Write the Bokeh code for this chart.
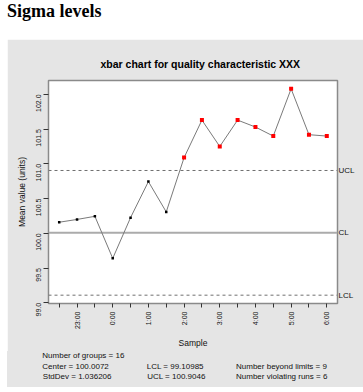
import math
from bokeh.plotting import figure
from bokeh.models import (Range1d, FixedTicker, PrintfTickFormatter, Div,
                          ColumnDataSource, LinearAxis)
from bokeh.layouts import column
from bokeh.embed import file_html
from bokeh.resources import INLINE

# ---- data ----
samples = ["22:30", "23:00", "23:30", "0:00", "0:30", "1:00", "1:30", "2:00",
           "2:30", "3:00", "3:30", "4:00", "4:30", "5:00", "5:30", "6:00"]
means = [100.16, 100.20, 100.245, 99.64, 100.226, 100.745, 100.308, 101.09,
         101.63, 101.25, 101.63, 101.53, 101.40, 102.08, 101.42, 101.40]
center = 100.0072
lcl = 99.10985
ucl = 100.9046
stddev = 1.036206
n_groups = 16
n_beyond = 9
n_runs = 6
y_ticks = [99.0, 99.5, 100.0, 100.5, 101.0, 101.5, 102.0]

# ---- layout geometry (pixels) ----
PAGE_W = 363
GX = 7                      # left edge of grey panel
FW = PAGE_W - GX            # 356
FRAME_W, FRAME_H = 289, 223
BL, BT, BR, BB = 41, 41, 26, 48
x0, x1 = -0.6, 15.6
y0, y1 = 98.99, 102.2

FONT = "Liberation Sans"
GRAY_BG = "#e5e5e5"
TXT = "#111111"

title_div = Div(
    text=('<div style="position:relative; top:2px; left:7px; '
          'font-family:\'Liberation Serif\'; font-weight:bold; font-size:18px; '
          'line-height:18px; white-space:nowrap; color:#000;">Sigma levels</div>'),
    width=PAGE_W, height=39, margin=(0, 0, 0, 0))

p = figure(frame_width=FRAME_W, frame_height=FRAME_H,
           x_range=Range1d(x0, x1), y_range=Range1d(y0, y1),
           output_backend="svg", toolbar_location=None,
           title="xbar chart for quality characteristic XXX",
           min_border_left=BL, min_border_right=BR, min_border_top=BT,
           min_border_bottom=BB, margin=(0, 0, 0, GX),
           border_fill_color=GRAY_BG, background_fill_color="white")
p.title.align = "left"
p.title.offset = 52
p.title.standoff = 22
p.title.text_font = FONT
p.title.text_font_size = "10.5px"
p.title.text_font_style = "bold"
p.title.text_color = "#000000"

p.outline_line_color = "#8a8a8a"
p.outline_line_width = 1.5
p.xgrid.visible = False
p.ygrid.visible = False

idx = list(range(len(samples)))
colors = ["red" if (v > ucl or v < lcl) else "black" for v in means]
sizes = [4 if c == "red" else 2.5 for c in colors]

# control lines
p.line([x0, x1], [center, center], line_color="#ababab", line_width=2)
p.line([x0, x1], [ucl, ucl], line_color="#707070", line_width=1, line_dash="3 3")
p.line([x0, x1], [lcl, lcl], line_color="#707070", line_width=1, line_dash="3 3")

# data
src = ColumnDataSource(dict(x=idx, y=means, c=colors, s=sizes))
p.line("x", "y", source=src, line_color="#7a7a7a", line_width=1)
p.scatter("x", "y", source=src, marker="square", size="s", fill_color="c",
          line_color=None)

# x axis
xa = p.xaxis[0]
xa.ticker = FixedTicker(ticks=idx)
xa.major_label_overrides = {i: (samples[i] if i % 2 == 1 else "") for i in idx}
xa.major_label_orientation = math.pi / 2
xa.axis_line_color = None
xa.major_tick_out = 4
xa.major_tick_in = 0
xa.minor_tick_line_color = None
xa.major_tick_line_color = "#333333"
xa.major_label_standoff = 4
xa.major_label_text_font = FONT
xa.major_label_text_font_size = "7px"
xa.major_label_text_color = TXT
xa.axis_label = "Sample"
xa.axis_label_text_font = FONT
xa.axis_label_text_font_size = "8.5px"
xa.axis_label_text_font_style = "normal"
xa.axis_label_text_color = TXT
xa.axis_label_standoff = 6

# y axis
ya = p.yaxis[0]
ya.ticker = FixedTicker(ticks=y_ticks)
ya.formatter = PrintfTickFormatter(format="%.1f")
ya.major_label_orientation = math.pi / 2
ya.axis_line_color = None
ya.major_tick_out = 5
ya.major_tick_in = 0
ya.minor_tick_line_color = None
ya.major_tick_line_color = "#333333"
ya.major_label_standoff = 5
ya.major_label_text_font = FONT
ya.major_label_text_font_size = "7px"
ya.major_label_text_color = TXT
ya.axis_label = "Mean value (units)"
ya.axis_label_text_font = FONT
ya.axis_label_text_font_size = "8.5px"
ya.axis_label_text_font_style = "normal"
ya.axis_label_text_color = TXT
ya.axis_label_standoff = 4

# right-side limit labels
limit_vals = [lcl, center, ucl]
limit_names = ["LCL", "CL", "UCL"]
ra = LinearAxis(ticker=FixedTicker(ticks=limit_vals),
                formatter=PrintfTickFormatter(format="%.0f"),
                major_label_overrides={v: n for v, n in zip(limit_vals, limit_names)})
ra.axis_line_color = None
ra.major_tick_out = 0
ra.major_tick_in = 0
ra.minor_tick_line_color = None
ra.major_tick_line_color = None
ra.major_label_standoff = 1
ra.major_label_text_font = FONT
ra.major_label_text_font_size = "8px"
ra.major_label_text_color = TXT
p.add_layout(ra, "right")

# summary statistics (HTML block under the chart)
stats = [
    (35.3, -0.3, f"Number of groups = {n_groups}"),
    (35.3, 10.7, f"Center = {center}"),
    (35.8, 21.0, f"StdDev = {stddev}"),
    (139.7, 10.7, f"LCL = {lcl}"),
    (140.2, 21.0, f"UCL = {ucl}"),
    (229.0, 10.7, f"Number beyond limits = {n_beyond}"),
    (229.0, 21.0, f"Number violating runs = {n_runs}"),
]
spans = "".join(
    f'<span style="position:absolute; left:{x}px; top:{y}px; white-space:nowrap;">{t}</span>'
    for x, y, t in stats)
stats_div = Div(
    text=(f'<div style="position:relative; width:{FW}px; height:36px; '
          f'background-color:{GRAY_BG}; '
          f'font-family:\'{FONT}\'; font-size:8px; line-height:10px; color:{TXT};">'
          f'{spans}</div>'),
    width=FW, height=36, margin=(0, 0, 0, GX),
    styles={"background-color": GRAY_BG})

layout = column(title_div, p, stats_div, spacing=0)
open("out.html", "w").write(file_html(layout, INLINE))
